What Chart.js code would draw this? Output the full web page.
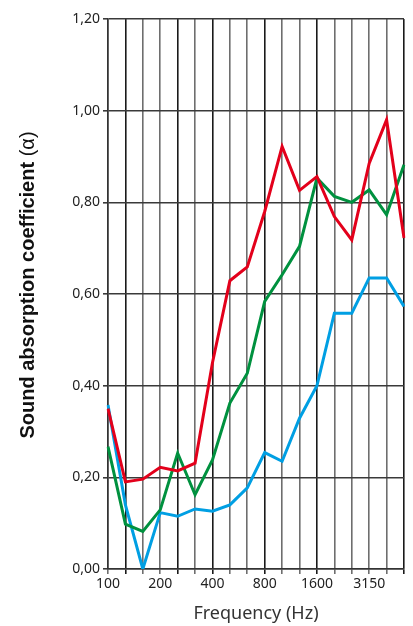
<!DOCTYPE html>
<html>
<head>
<meta charset="utf-8">
<script src="https://cdn.jsdelivr.net/npm/chart.js@4.4.1/dist/chart.umd.min.js"></script>
<style>
  html, body { margin: 0; padding: 0; background: #fff; }
  #wrap { width: 413px; height: 626px; position: relative; }
</style>
</head>
<body>
<div id="wrap"><canvas id="absChart"></canvas></div>
<script>
// third-octave band centres (Hz)
const frequencies = ['100', '125', '160', '200', '250', '315', '400', '500', '630',
    '800', '1000', '1250', '1600', '2000', '2500', '3150', '4000', '5000'];
const shownLabels = ['100', '200', '400', '800', '1600', '3150'];

const redSeries = [0.35, 0.19, 0.196, 0.222, 0.214, 0.231, 0.45, 0.629, 0.659,
    0.78, 0.922, 0.826, 0.856, 0.769, 0.718, 0.885, 0.98, 0.722];
const greenSeries = [0.267, 0.098, 0.082, 0.129, 0.253, 0.162, 0.238, 0.362, 0.427,
    0.584, 0.642, 0.704, 0.853, 0.813, 0.8, 0.827, 0.773, 0.882];
const blueSeries = [0.358, 0.14, 0.0, 0.123, 0.115, 0.131, 0.126, 0.14, 0.177,
    0.254, 0.235, 0.329, 0.4, 0.558, 0.558, 0.635, 0.635, 0.573];

const yTicks = [0, 0.2, 0.4, 0.6, 0.8, 1.0, 1.2];

// darker lines on some of the vertical grid lines, like the original print
const darkLines = [1, 4, 6, 9, 12, 17];

// y-axis title has a bold part and a regular "(α)"
const yTitlePlugin = {
    id: 'yTitle',
    afterDraw(chart) {
        const ctx = chart.ctx;
        const bold = 'bold 20px "Liberation Sans", Arial, sans-serif';
        const normal = '20px "Liberation Sans", Arial, sans-serif';
        const part1 = 'Sound absorption coefficient ';
        const part2 = '(\u03b1)';
        ctx.save();
        ctx.font = bold;
        const w1 = ctx.measureText(part1).width;
        ctx.font = normal;
        const w2 = ctx.measureText(part2).width;
        const total = w1 + w2;
        ctx.translate(28, 285);
        ctx.rotate(-Math.PI / 2);
        ctx.textBaseline = 'middle';
        ctx.fillStyle = '#111';
        ctx.font = bold;
        ctx.fillText(part1, -total / 2, 0);
        ctx.font = normal;
        ctx.fillText(part2, -total / 2 + w1, 0);
        ctx.restore();
    }
};

const ctx = document.getElementById('absChart').getContext('2d');

new Chart(ctx, {
    type: 'line',
    data: {
        labels: frequencies,
        datasets: [
            { data: redSeries, borderColor: '#e3001b', borderWidth: 3, pointRadius: 0, tension: 0 },
            { data: greenSeries, borderColor: '#00913f', borderWidth: 3, pointRadius: 0, tension: 0 },
            { data: blueSeries, borderColor: '#009fe3', borderWidth: 3, pointRadius: 0, tension: 0 }
        ]
    },
    options: {
        responsive: true,
        maintainAspectRatio: false,
        animation: false,
        layout: { padding: { top: 19, right: 9, left: 0, bottom: 0 } },
        plugins: {
            legend: { display: false },
            tooltip: { enabled: false }
        },
        scales: {
            x: {
                type: 'category',
                offset: false,
                grid: {
                    offset: false,
                    color: c => darkLines.includes(c.index) ? '#1a1a1a' : '#6e6e6e',
                    lineWidth: 1.6,
                    tickLength: 5
                },
                border: { color: '#333', width: 1.6 },
                ticks: {
                    autoSkip: false,
                    maxRotation: 0,
                    padding: 2,
                    color: '#222',
                    font: { family: '"Noto Sans", sans-serif', size: 14 },
                    callback: function (value) {
                        const lbl = this.getLabelForValue(value);
                        return shownLabels.includes(lbl) ? lbl : '';
                    }
                },
                title: {
                    display: true,
                    text: 'Frequency (Hz)',
                    color: '#333',
                    font: { family: '"Noto Sans", sans-serif', size: 18 },
                    padding: { top: 0, bottom: 1 }
                },
                afterFit: s => { s.height = 57; }
            },
            y: {
                min: 0,
                max: 1.2,
                afterBuildTicks: s => { s.ticks = yTicks.map(v => ({ value: v })); },
                grid: { color: '#3a3a3a', lineWidth: 1.6, tickLength: 5 },
                border: { color: '#333', width: 1.6 },
                ticks: {
                    padding: 3,
                    color: '#222',
                    font: { family: '"Noto Sans", sans-serif', size: 14 },
                    callback: v => v.toFixed(2).replace('.', ',')
                },
                afterFit: s => { s.width = 108; }
            }
        }
    },
    plugins: [yTitlePlugin]
});
</script>
</body>
</html>
